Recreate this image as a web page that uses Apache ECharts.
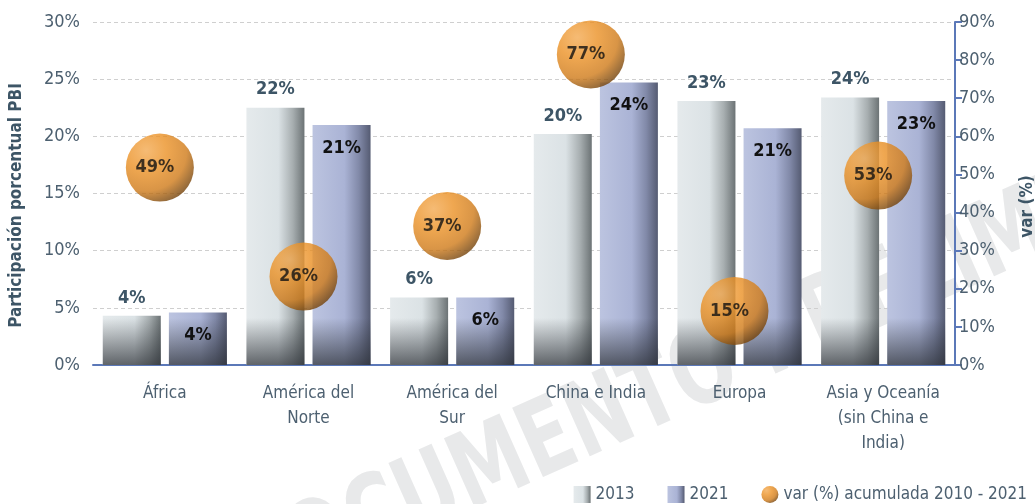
<!DOCTYPE html>
<html lang="es">
<head>
<meta charset="utf-8" />
<title>Participación porcentual PBI</title>
<script src="https://cdn.jsdelivr.net/npm/echarts@6/dist/echarts.min.js"></script>
<style>
  html, body { margin: 0; padding: 0; background: #fff; }
  #chart { width: 1035px; height: 504px; }
</style>
</head>
<body>
<div id="chart"></div>
<script>
// datos
var categories = ['África', 'América del\nNorte', 'América del\nSur', 'China e India', 'Europa', 'Asia y Oceanía\n(sin China e\nIndia)'];
var share2013 = [4.3, 22.5, 5.9, 20.2, 23.1, 23.4];
var share2021 = [4.6, 21.0, 5.9, 24.7, 20.7, 23.1];
var labels2013 = ['4%', '22%', '6%', '20%', '23%', '24%'];
var labels2021 = ['4%', '21%', '6%', '24%', '21%', '23%'];
var varPos = [51.8, 23.2, 36.5, 81.5, 14.2, 49.7];   // altura de la burbuja (eje derecho)
var varLabels = ['49%', '26%', '37%', '77%', '15%', '53%'];
var leftTicks = [0, 30, 5];
var rightTicks = [0, 90, 10];

var FONT = "'Liberation Sans Narrow', 'DejaVu Sans Condensed', sans-serif";
var TXT = '#4d6070';
var AXIS_BLUE = '#5b78b8';

var dom = document.getElementById('chart');
var myChart = echarts.init(dom);

var grad2013 = new echarts.graphic.LinearGradient(0, 0, 1, 0, [
  { offset: 0, color: '#e5eaec' },
  { offset: 0.55, color: '#dbe2e5' },
  { offset: 0.8, color: '#a7aeb0' },
  { offset: 1, color: '#6c7375' }
]);
var grad2021 = new echarts.graphic.LinearGradient(0, 0, 1, 0, [
  { offset: 0, color: '#bcc4e0' },
  { offset: 0.55, color: '#aab3d5' },
  { offset: 0.8, color: '#8189a8' },
  { offset: 1, color: '#555b72' }
]);
// sombra oscura al pie de las barras
var shade = {
  type: 'linear', global: true, x: 0, y: 318, x2: 0, y2: 365,
  colorStops: [
    { offset: 0, color: 'rgba(40,44,50,0)' },
    { offset: 1, color: 'rgba(40,44,50,0.7)' }
  ]
};
var ball = {
  type: 'radial', x: 0.3, y: 0.25, r: 0.85,
  colorStops: [
    { offset: 0, color: '#f3aa52' },
    { offset: 0.35, color: '#eb9125' },
    { offset: 0.7, color: '#cf7a18' },
    { offset: 1, color: '#643806' }
  ]
};

function labelFrom(arr) {
  return function (p) { return arr[p.dataIndex]; };
}

var option = {
  animation: false,
  textStyle: { fontFamily: FONT },
  graphic: [{
    type: 'text',
    z: -10,
    x: 735, y: 362,
    rotation: 24 * Math.PI / 180,
    scaleX: 0.8,
    style: {
      text: 'DOCUMENTO PRELIMINAR',
      font: 'bold 104px ' + FONT,
      fill: '#e8e9ea',
      align: 'center',
      verticalAlign: 'middle'
    }
  }],
  legend: {
    right: 3,
    top: 481,
    itemWidth: 17,
    itemHeight: 17,
    itemGap: 33,
    textStyle: { color: TXT, fontSize: 17, fontFamily: FONT },
    data: [
      { name: '2013', icon: 'rect' },
      { name: '2021', icon: 'rect' },
      { name: 'var (%) acumulada 2010 - 2021', icon: 'circle' }
    ]
  },
  grid: { left: 93, right: 80, top: 22, bottom: 139, containLabel: false, outerBoundsMode: 'none' },
  xAxis: [{
    type: 'category',
    data: categories,
    axisLine: { lineStyle: { color: AXIS_BLUE, width: 2 } },
    axisTick: { show: false },
    axisLabel: { color: TXT, fontSize: 17, lineHeight: 25, margin: 16, fontFamily: FONT, interval: 0 }
  }, {
    type: 'category',
    data: categories,
    show: false
  }],
  yAxis: [{
    type: 'value',
    min: leftTicks[0], max: leftTicks[1], interval: leftTicks[2],
    name: 'Participación porcentual PBI',
    nameLocation: 'middle',
    nameRotate: 90,
    nameGap: 68,
    nameTextStyle: { color: '#3d5566', fontSize: 17, fontWeight: 'bold', fontFamily: FONT, padding: [0, 0, 0, -24] },
    axisLine: { show: false },
    axisTick: { show: false },
    axisLabel: { color: TXT, fontSize: 18, margin: 13, formatter: '{value}%', fontFamily: FONT },
    splitLine: { lineStyle: { color: '#cfcfcf', type: [4, 3] } }
  }, {
    type: 'value',
    position: 'right',
    min: rightTicks[0], max: rightTicks[1], interval: rightTicks[2],
    name: 'var (%)',
    nameLocation: 'middle',
    nameRotate: 90,
    nameGap: 64,
    nameTextStyle: { color: '#3d5566', fontSize: 17, fontWeight: 'bold', fontFamily: FONT, padding: [0, 0, 0, -26] },
    axisLine: { show: true, lineStyle: { color: AXIS_BLUE, width: 2 } },
    axisTick: { show: true, length: 7, lineStyle: { color: AXIS_BLUE, width: 2 } },
    axisLabel: { color: TXT, fontSize: 18, margin: 4, formatter: '{value}%', fontFamily: FONT },
    splitLine: { show: false }
  }],
  series: [{
    name: '2013',
    type: 'bar',
    data: share2013,
    barWidth: 58,
    barGap: '14%',
    itemStyle: { color: grad2013 },
    label: {
      show: true, position: 'top', distance: 9,
      formatter: labelFrom(labels2013),
      color: '#3d5566', fontSize: 18, fontWeight: 'bold', fontFamily: FONT
    }
  }, {
    name: '2021',
    type: 'bar',
    data: share2021,
    barWidth: 58,
    barGap: '14%',
    itemStyle: { color: grad2021 },
    label: {
      show: true, position: 'insideTop', distance: 14,
      formatter: labelFrom(labels2021),
      color: '#111', fontSize: 18, fontWeight: 'bold', fontFamily: FONT
    }
  }, {
    name: 'sombra2013',
    type: 'bar',
    xAxisIndex: 1,
    data: share2013,
    barWidth: 58,
    barGap: '14%',
    silent: true,
    itemStyle: { color: shade }
  }, {
    name: 'sombra2021',
    type: 'bar',
    xAxisIndex: 1,
    data: share2021,
    barWidth: 58,
    barGap: '14%',
    silent: true,
    itemStyle: { color: shade }
  }, {
    name: 'var (%) acumulada 2010 - 2021',
    type: 'scatter',
    yAxisIndex: 1,
    data: varPos,
    symbol: 'circle',
    symbolSize: 68,
    symbolOffset: [-5, 0],
    z: 5,
    itemStyle: { color: ball },
    label: {
      show: true, position: 'inside', offset: [-5, 0],
      formatter: labelFrom(varLabels),
      color: '#111', fontSize: 18, fontWeight: 'bold', fontFamily: FONT
    }
  }]
};
myChart.setOption(option);
</script>
</body>
</html>
